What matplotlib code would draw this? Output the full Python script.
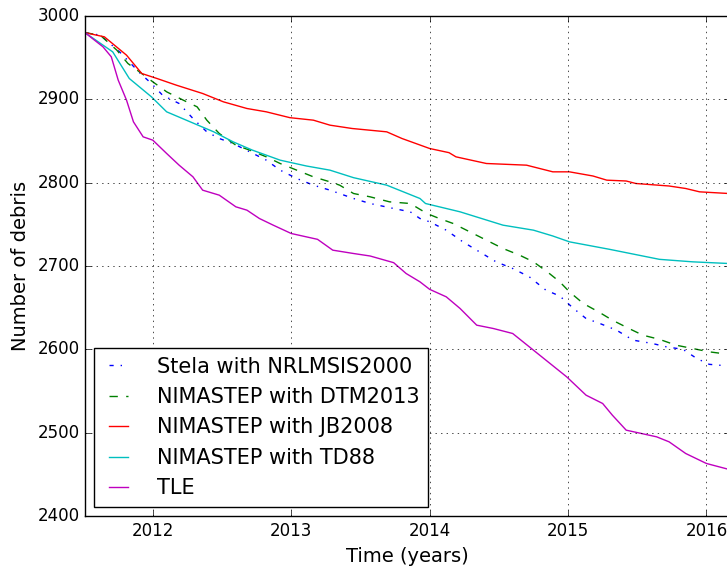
import numpy as np
import matplotlib
matplotlib.use('Agg')
import matplotlib.pyplot as plt

# values
t_stela = [2011.51, 2011.62, 2011.76, 2011.91, 2011.99, 2012.07, 2012.19, 2012.29, 2012.39, 2012.48,
           2012.58, 2012.70, 2012.82, 2012.92, 2013.04, 2013.16, 2013.28, 2013.45, 2013.57, 2013.74,
           2013.86, 2013.93, 2014.00, 2014.12, 2014.24, 2014.36, 2014.48, 2014.60, 2014.72, 2014.84,
           2014.94, 2015.04, 2015.13, 2015.23, 2015.35, 2015.47, 2015.61, 2015.71, 2015.83, 2015.93,
           2016.02, 2016.16]
n_stela = [2980, 2977, 2957, 2931, 2919, 2905, 2895, 2877, 2861, 2853,
           2847, 2837, 2827, 2815, 2805, 2797, 2791, 2781, 2775, 2769,
           2765, 2757, 2753, 2743, 2729, 2717, 2705, 2697, 2687, 2671,
           2664, 2649, 2637, 2631, 2623, 2611, 2607, 2603, 2600, 2589,
           2582, 2580]

t_dtm = [2011.51, 2011.62, 2011.74, 2011.82, 2011.92, 2012.00, 2012.10, 2012.22, 2012.32, 2012.39,
         2012.48, 2012.60, 2012.70, 2012.82, 2012.92, 2013.04, 2013.16, 2013.28, 2013.35, 2013.45,
         2013.57, 2013.71, 2013.86, 2013.98, 2014.07, 2014.17, 2014.29, 2014.41, 2014.53, 2014.65,
         2014.75, 2014.85, 2014.94, 2015.01, 2015.11, 2015.22, 2015.32, 2015.44, 2015.54, 2015.66,
         2015.78, 2015.90, 2016.02, 2016.16]
n_dtm = [2980, 2977, 2959, 2943, 2931, 2921, 2909, 2899, 2891, 2875,
         2859, 2845, 2839, 2831, 2823, 2815, 2807, 2801, 2797, 2787,
         2783, 2777, 2775, 2763, 2757, 2751, 2741, 2731, 2721, 2713,
         2705, 2693, 2681, 2669, 2655, 2645, 2635, 2625, 2617, 2612,
         2605, 2601, 2597, 2594]

t_jb = [2011.51, 2011.65, 2011.81, 2011.92, 2012.03, 2012.17, 2012.36, 2012.51, 2012.68, 2012.82,
        2012.99, 2013.16, 2013.28, 2013.44, 2013.69, 2013.80, 2014.00, 2014.14, 2014.19, 2014.41,
        2014.70, 2014.89, 2015.01, 2015.18, 2015.28, 2015.42, 2015.49, 2015.73, 2015.85, 2015.95,
        2016.16]
n_jb = [2980, 2975, 2953, 2931, 2925, 2917, 2907, 2897, 2889, 2885,
        2878, 2875, 2869, 2865, 2861, 2853, 2841, 2836, 2831, 2823,
        2821, 2813, 2813, 2808, 2803, 2802, 2799, 2796, 2793, 2789,
        2787]

t_td = [2011.51, 2011.71, 2011.83, 2011.99, 2012.10, 2012.27, 2012.44, 2012.58, 2012.72, 2012.92,
        2013.11, 2013.28, 2013.45, 2013.69, 2013.93, 2013.97, 2014.22, 2014.53, 2014.75, 2014.89,
        2015.01, 2015.30, 2015.66, 2015.90, 2016.16]
n_td = [2980, 2957, 2925, 2903, 2885, 2873, 2861, 2849, 2839, 2827,
        2820, 2815, 2806, 2797, 2781, 2775, 2765, 2749, 2743, 2736,
        2729, 2720, 2708, 2705, 2703]

t_tle = [2011.51, 2011.64, 2011.70, 2011.75, 2011.81, 2011.86, 2011.93, 2012.00, 2012.10, 2012.19,
         2012.29, 2012.36, 2012.48, 2012.60, 2012.68, 2012.77, 2012.87, 2013.00, 2013.19, 2013.30,
         2013.45, 2013.57, 2013.74, 2013.83, 2013.93, 2014.00, 2014.12, 2014.22, 2014.34, 2014.46,
         2014.60, 2014.72, 2014.84, 2014.99, 2015.13, 2015.25, 2015.32, 2015.42, 2015.64, 2015.73,
         2015.85, 2016.00, 2016.16]
n_tle = [2980, 2963, 2951, 2923, 2899, 2873, 2855, 2851, 2835, 2821,
         2807, 2791, 2785, 2771, 2767, 2757, 2749, 2739, 2732, 2719,
         2715, 2712, 2704, 2691, 2681, 2672, 2663, 2649, 2629, 2625,
         2619, 2603, 2587, 2567, 2545, 2535, 2521, 2503, 2495, 2489,
         2475, 2463, 2456]

plt.style.use('classic')
plt.rcParams['font.family'] = ['DejaVu Sans']

fig = plt.figure(figsize=(7.27, 5.70), dpi=100, facecolor='white')
# axes run just past the right edge of the figure, as in the reference
ax = fig.add_axes([85 / 727, 54 / 570, 645 / 727, 500 / 570])

ax.plot(t_stela, n_stela, 'b-.', label='Stela with NRLMSIS2000')
ax.plot(t_dtm, n_dtm, 'g--', label='NIMASTEP with DTM2013')
ax.plot(t_jb, n_jb, 'r-', label='NIMASTEP with JB2008')
ax.plot(t_td, n_td, 'c-', label='NIMASTEP with TD88')
ax.plot(t_tle, n_tle, 'm-', label='TLE')

ax.set_xlim(2011.51, 2016.17)
ax.set_ylim(2400, 3000)
ax.set_xticks([2012, 2013, 2014, 2015, 2016])
ax.set_yticks([2400, 2500, 2600, 2700, 2800, 2900, 3000])
ax.xaxis.set_major_formatter(matplotlib.ticker.FormatStrFormatter('%d'))
ax.grid(True)
ax.tick_params(labelsize=12)
ax.set_xlabel('Time (years)', fontsize=14)
ax.set_ylabel('Number of debris', fontsize=14)

ax.legend(loc='lower left', fontsize=15, handlelength=1.5, handletextpad=1.1,
          labelspacing=0.5, borderaxespad=0.45)

fig.savefig('out.png', dpi=100, facecolor='white')
